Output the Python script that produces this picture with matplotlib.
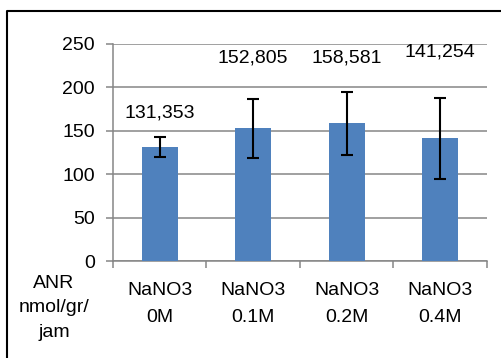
import matplotlib
matplotlib.use("Agg")
import matplotlib.pyplot as plt
from matplotlib.lines import Line2D

categories = ["NaNO3\n0M", "NaNO3\n0.1M", "NaNO3\n0.2M", "NaNO3\n0.4M"]
values = [131.353, 152.805, 158.581, 141.254]
errors = [12, 34, 36, 47]
value_labels = ["131,353", "152,805", "158,581", "141,254"]
label_y = [170.5, 234, 234, 241]
yticks = [0, 50, 100, 150, 200, 250]

plt.rcParams['font.family'] = ['Liberation Sans', 'DejaVu Sans']
fs = 14
grid_col = "#868686"

fig = plt.figure(figsize=(5.02, 3.58), dpi=100)
ax = fig.add_axes([113/502, 1-261/358, (487-113)/502, (261-44)/358])

x = list(range(len(categories)))
ax.bar(x, values, width=0.385, color="#4F81BD", zorder=3)
ax.errorbar(x, values, yerr=errors, fmt="none", ecolor="black",
            elinewidth=1.5, capsize=4, capthick=1.5, zorder=4)

for xi, lab, ly in zip(x, value_labels, label_y):
    ax.text(xi, ly, lab, ha="center", va="center", fontsize=fs, zorder=5)

ax.set_xlim(-0.5, len(categories) - 0.5)
ax.set_ylim(0, 250)
ax.set_yticks(yticks)
ax.set_yticklabels([str(t) for t in yticks], fontsize=fs)
ax.yaxis.grid(True, color=grid_col, linewidth=1.1, zorder=0)
ax.set_axisbelow(True)

ax.set_xticks([i - 0.5 for i in range(len(categories) + 1)])
ax.set_xticklabels([])
ax.set_xticks(x, minor=True)
ax.set_xticklabels(categories, minor=True, fontsize=fs, linespacing=1.75)
ax.tick_params(axis="x", which="minor", length=0, pad=15)
ax.tick_params(axis="x", which="major", length=5, width=1.1, color=grid_col)
ax.tick_params(axis="y", length=5, width=1.1, color=grid_col, pad=8)

for side in ["top", "right"]:
    ax.spines[side].set_visible(False)
for side in ["left", "bottom"]:
    ax.spines[side].set_color(grid_col)
    ax.spines[side].set_linewidth(1.1)

fig.text(54/502, 1-308/358, "ANR\nnmol/gr/\njam", ha="center", va="center",
         fontsize=fs, linespacing=1.6, multialignment="center")

# outer chart frame (extends past the picture edges)
fig.add_artist(Line2D([7.5/502, 7.5/502, 1.01], [-0.01, 1-10.5/358, 1-10.5/358],
                      transform=fig.transFigure, color="black", linewidth=1.5))

fig.savefig("out.png", dpi=100)
